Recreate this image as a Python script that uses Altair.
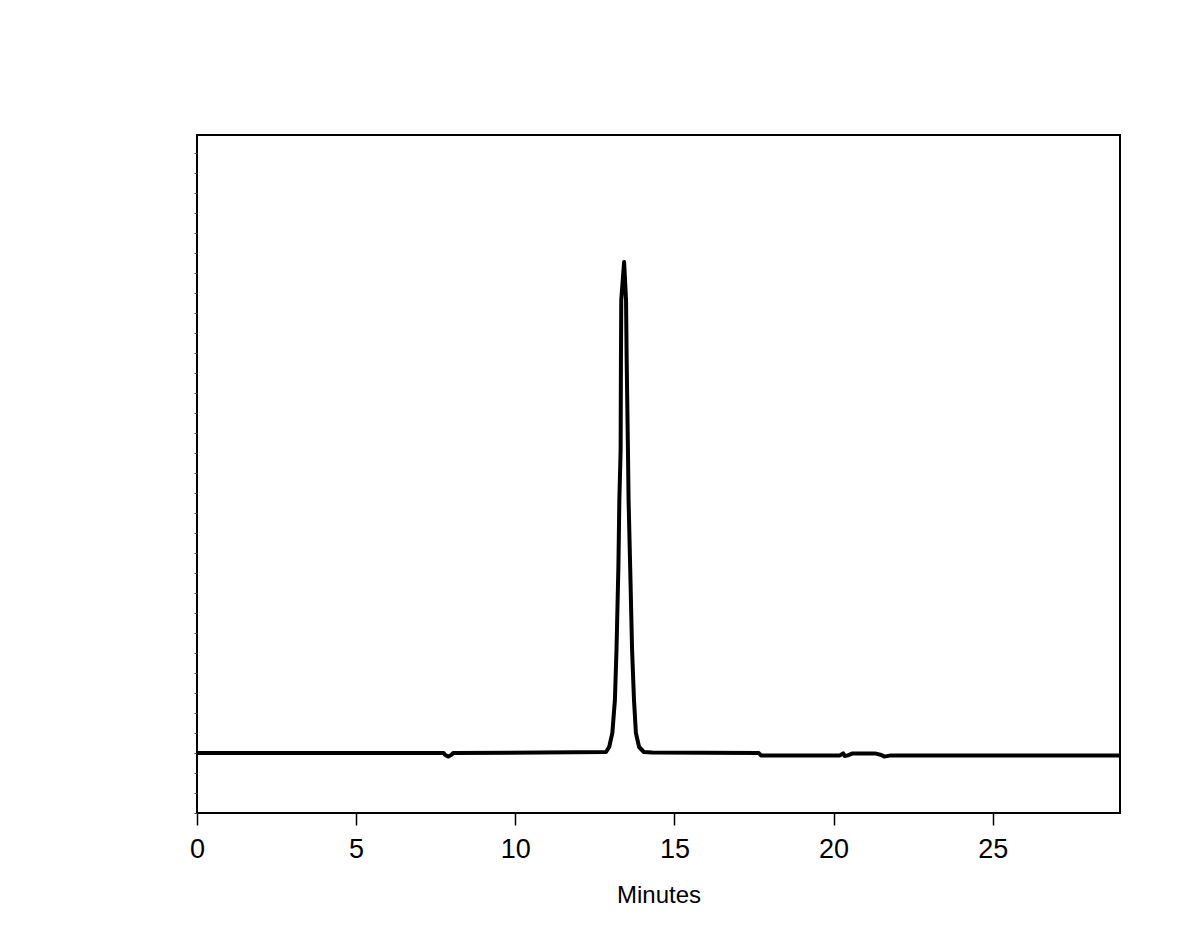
import altair as alt
import pandas as pd

minutes = [0.0, 3.45, 7.75, 7.8, 7.9, 8.0, 8.05, 12.85, 12.95, 13.05, 13.13, 13.18,
           13.24, 13.27, 13.31, 13.32, 13.33, 13.42, 13.48, 13.50, 13.54, 13.56,
           13.61, 13.67, 13.73, 13.79, 13.89, 14.04, 14.3, 17.65, 17.72, 20.2,
           20.3, 20.35, 20.45, 20.6, 21.3, 21.5, 21.6, 21.8, 29.0]
signal = [0.0, 0.0, 0.0, -1.0, -1.8, -0.8, 0.0, 0.5, 3.0, 10.0, 26.5, 51.5,
          93.0, 126.5, 151.5, 196.5, 226.5, 245.5, 226.5, 196.5, 151.5, 126.5,
          93.0, 51.5, 26.5, 10.0, 3.0, 0.5, 0.3, 0.0, -1.2, -1.2,
          -0.2, -1.5, -1.2, -0.2, -0.2, -1.0, -1.8, -1.2, -1.2]

x_ticks = [0, 5, 10, 15, 20, 25]
y_ticks = list(range(-30, 310, 10))

df = pd.DataFrame({"Minutes": minutes, "Signal": signal, "order": list(range(len(minutes)))})

line = alt.Chart(df).mark_line(color="black", strokeWidth=4, strokeJoin="round").encode(
    x=alt.X("Minutes:Q",
            scale=alt.Scale(domain=[0, 29], nice=False, zero=False),
            axis=alt.Axis(title="Minutes", values=x_ticks, format="d", grid=False,
                          domain=False, tickColor="black", tickSize=12, tickWidth=1.5,
                          labelFont="Liberation Sans", labelFontSize=27, labelColor="black",
                          labelFlush=False, labelPadding=11,
                          titleFont="Liberation Sans", titleFontSize=24,
                          titleFontWeight="normal", titleColor="black", titlePadding=21)),
    y=alt.Y("Signal:Q",
            scale=alt.Scale(domain=[-30, 309], nice=False, zero=False),
            axis=alt.Axis(title=None, values=y_ticks, labels=False, grid=False,
                          domain=False, tickColor="#444444", tickSize=3, tickWidth=1)),
    order="order:Q",
)

chart = line.properties(
    width=923, height=678,
    background="white",
    padding={"left": 189, "top": 127, "right": 60, "bottom": 120},
    autosize=alt.AutoSizeParams(type="none"),
).configure_view(stroke="black", strokeWidth=2)

chart.save("out.html", embed_options={"renderer": "svg", "actions": False})
